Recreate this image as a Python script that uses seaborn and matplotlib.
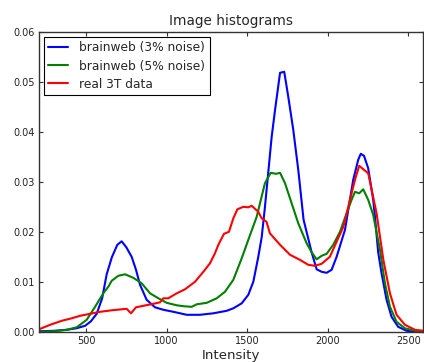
import matplotlib
matplotlib.use("Agg")
import matplotlib.pyplot as plt
import seaborn as sns
import pandas as pd
from matplotlib.ticker import FormatStrFormatter

# Histogram curves (intensity -> normalised frequency)
bw3_x = [208, 300, 380, 440, 494, 530, 566, 600, 628, 660, 694, 721, 750, 783,
         810, 835, 876, 928, 980, 1042, 1125, 1207, 1290, 1373, 1414, 1466, 1507,
         1538, 1569, 1590, 1610, 1652, 1673, 1704, 1730, 1755, 1786, 1817, 1850,
         1900, 1931, 1962, 1993, 2024, 2055, 2107, 2158, 2189, 2205, 2225, 2251,
         2282, 2293, 2313, 2334, 2365, 2396, 2437, 2489, 2540, 2593]
bw3_y = [0.0002, 0.0003, 0.0005, 0.0008, 0.0013, 0.0022, 0.0037, 0.0068, 0.0116,
         0.0150, 0.0175, 0.0182, 0.0170, 0.0151, 0.0125, 0.0095, 0.0065, 0.0050,
         0.0045, 0.0041, 0.0035, 0.0035, 0.0038, 0.0043, 0.0048, 0.0058, 0.0075,
         0.0101, 0.0151, 0.0190, 0.0250, 0.0391, 0.0445, 0.0519, 0.0521, 0.0471,
         0.0405, 0.0325, 0.0225, 0.0160, 0.0126, 0.0121, 0.0119, 0.0125, 0.0151,
         0.0205, 0.0305, 0.0345, 0.0357, 0.0353, 0.0328, 0.0265, 0.0231, 0.0160,
         0.0118, 0.0065, 0.0031, 0.0011, 0.0003, 0.0001, 0.0000]

bw5_x = [208, 300, 380, 442, 504, 556, 607, 640, 659, 700, 742, 793, 845, 897,
         949, 1000, 1063, 1110, 1156, 1187, 1249, 1311, 1362, 1414, 1466, 1507,
         1559, 1610, 1646, 1679, 1704, 1735, 1776, 1817, 1869, 1900, 1931, 1962,
         1993, 2034, 2076, 2117, 2148, 2169, 2195, 2220, 2251, 2282, 2324, 2355,
         2386, 2427, 2479, 2541, 2593]
bw5_y = [0.0001, 0.0002, 0.0005, 0.0010, 0.0025, 0.0051, 0.0078, 0.0092, 0.0103,
         0.0113, 0.0116, 0.0109, 0.0098, 0.0078, 0.0068, 0.0059, 0.0054, 0.0052,
         0.0051, 0.0056, 0.0059, 0.0068, 0.0081, 0.0105, 0.0148, 0.0185, 0.0231,
         0.0298, 0.0319, 0.0317, 0.0319, 0.0298, 0.0258, 0.0218, 0.0178, 0.0160,
         0.0146, 0.0153, 0.0157, 0.0175, 0.0201, 0.0238, 0.0265, 0.0281, 0.0278,
         0.0286, 0.0265, 0.0235, 0.0165, 0.0098, 0.0051, 0.0021, 0.0008, 0.0003,
         0.0001]

t3_x = [208, 277, 349, 411, 463, 525, 587, 659, 752, 779, 810, 856, 918, 959,
        979, 1010, 1063, 1114, 1176, 1228, 1269, 1300, 1321, 1356, 1387, 1414,
        1439, 1476, 1507, 1528, 1569, 1590, 1620, 1641, 1704, 1766, 1827, 1879,
        1920, 1962, 2013, 2055, 2097, 2138, 2169, 2195, 2251, 2303, 2345, 2386,
        2427, 2479, 2541, 2593]
t3_y = [0.0006, 0.0015, 0.0023, 0.0028, 0.0033, 0.0037, 0.0041, 0.0044, 0.0047,
        0.0038, 0.0050, 0.0053, 0.0057, 0.0060, 0.0068, 0.0068, 0.0078, 0.0086,
        0.0101, 0.0121, 0.0138, 0.0158, 0.0175, 0.0197, 0.0201, 0.0228, 0.0246,
        0.0251, 0.0250, 0.0253, 0.0241, 0.0228, 0.0221, 0.0198, 0.0175, 0.0155,
        0.0145, 0.0135, 0.0133, 0.0137, 0.0151, 0.0181, 0.0211, 0.0265, 0.0305,
        0.0333, 0.0318, 0.0238, 0.0145, 0.0078, 0.0035, 0.0015, 0.0005, 0.0003]

labels = ["brainweb (3% noise)", "brainweb (5% noise)", "real 3T data"]
colors = ["#0000ff", "#008000", "#ff0000"]
x_ticks = [500, 1000, 1500, 2000, 2500]
y_ticks = [0.00, 0.01, 0.02, 0.03, 0.04, 0.05, 0.06]

sns.set_theme(style="ticks")
plt.rcParams["font.family"] = ["DejaVu Sans"]
plt.rcParams.update({
    "xtick.direction": "in", "ytick.direction": "in",
    "xtick.top": True, "ytick.right": True,
    "xtick.major.size": 3, "ytick.major.size": 3,
    "xtick.major.width": 0.8, "ytick.major.width": 0.8,
    "axes.edgecolor": "#333333", "axes.linewidth": 1.0,
    "xtick.color": "#333333", "ytick.color": "#333333",
    "xtick.labelcolor": "#222222", "ytick.labelcolor": "#222222",
})

fig = plt.figure(figsize=(4.24, 3.62), dpi=100)
ax = fig.add_axes([39 / 424, 1 - 332.3 / 362, (423.3 - 39) / 424, 300 / 362])

series = [(bw3_x, bw3_y), (bw5_x, bw5_y), (t3_x, t3_y)]
for (xs, ys), lab, col in zip(series, labels, colors):
    df = pd.DataFrame({"Intensity": xs, "freq": ys})
    sns.lineplot(data=df, x="Intensity", y="freq", color=col, label=lab,
                 linewidth=1.5, ax=ax, sort=False)

ax.set_xlim(208, 2593)
ax.set_ylim(0, 0.06)
ax.set_xticks(x_ticks)
ax.set_yticks(y_ticks)
ax.yaxis.set_major_formatter(FormatStrFormatter("%.2f"))
ax.tick_params(labelsize=7, pad=3)
ax.set_xlabel("Intensity", fontsize=9.6, labelpad=2)
ax.set_ylabel("")
ax.set_title("Image histograms", fontsize=9.8, pad=5)

leg = ax.legend(loc="upper left", fontsize=8.8, frameon=True, fancybox=False,
                edgecolor="black", framealpha=1, handlelength=1.6,
                handletextpad=0.95, labelspacing=0.42, borderaxespad=0.4,
                borderpad=0.35)
leg.get_frame().set_linewidth(0.8)

fig.savefig("out.png", dpi=100)
